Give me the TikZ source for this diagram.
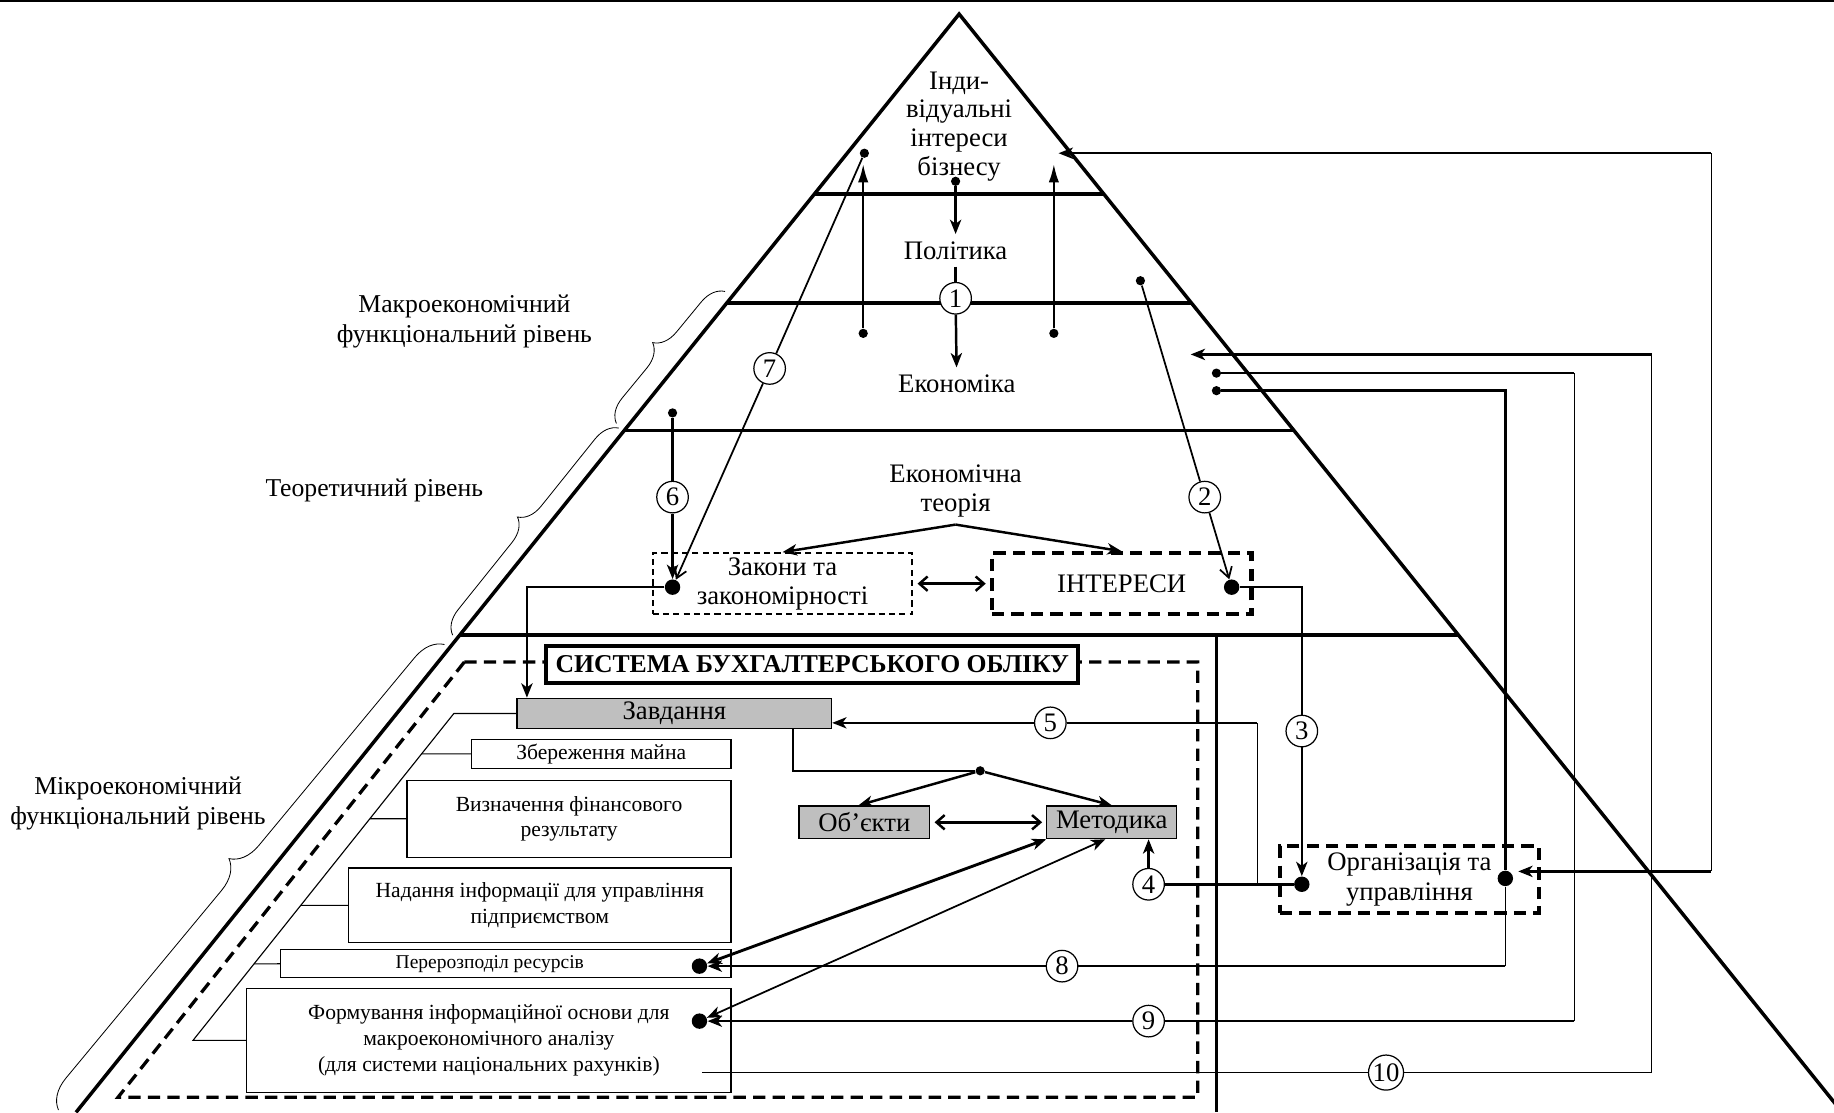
\documentclass[tikz,border=0pt]{standalone}
\usepackage{fontspec}
\setmainfont{Liberation Serif}
\usetikzlibrary{arrows.meta,calc,decorations.pathreplacing,positioning}
\tikzset{
  tier/.style={line width=1.7pt},
  conn/.style={line width=1.2pt},
  mid/.style={line width=0.85pt},
  fine/.style={line width=0.55pt},
  dot/.style={circle,fill,inner sep=0pt,minimum size=4.5pt},
  bigdot/.style={circle,fill,inner sep=0pt,minimum size=7.5pt},
  num/.style={circle,draw,fill=white,inner sep=0.5pt,minimum size=0.54cm,line width=0.6pt,font=\fontsize{13}{14}\selectfont},
  lbl/.style={align=center,font=\fontsize{13}{14}\selectfont},
  side/.style={align=center,font=\fontsize{12.5}{14.5}\selectfont},
  grey/.style={draw,fill=gray!50,line width=0.6pt,inner sep=0pt,font=\fontsize{13}{14}\selectfont},
  goal/.style={draw,fill=white,line width=0.6pt,align=center,inner sep=0pt,font=\fontsize{10.5}{12.5}\selectfont},
  lawbox/.style={draw,dash pattern=on 3pt off 2pt,line width=1.1pt,align=center,inner sep=0pt,font=\fontsize{13}{14}\selectfont},
  heavybox/.style={draw,dash pattern=on 6pt off 3.5pt,line width=2pt,align=center,inner sep=0pt,font=\fontsize{13}{14.5}\selectfont},
  brc/.style={decorate,decoration={brace,amplitude=0.4cm},line width=0.4pt},
  barb/.style={{Straight Barb[length=4pt,width=7pt]}-{Straight Barb[length=4pt,width=7pt]}}
}

\begin{document}
\begin{tikzpicture}[x=0.02cm,y=-0.02cm,>={Stealth[length=7pt,width=5.5pt,inset=2pt]}]
\useasboundingbox (0,0) rectangle (1568,951);
\draw[line width=0.8pt] (0,1) -- (1568,1);

% pyramid and levels
\coordinate (apex) at (820,12);
\coordinate (bl) at (65,951);
\coordinate (br) at (1575,951);
\draw[tier] (bl) -- (apex) -- (br);
\foreach \t in {0.164,0.263,0.3791,0.5655}
  \draw[tier] ($(apex)!\t!(bl)$) -- ($(apex)!\t!(br)$);
\draw[tier] (1040,543) -- (1040,951);

\draw[brc] (527,362) -- (620,249);
\draw[brc] (387,543) -- (529,366);
\draw[brc,decoration={brace,amplitude=0.5cm}] (50,949) -- (380,551);
\node[side] (macro) at (397,275) {Макроекономічний\\функціональний рівень};
\node[side] (theory) at (320,419) {Теоретичний рівень};
\node[side] (micro) at (118,687) {Мікроекономічний\\функціональний рівень};

% top levels
\node[lbl] (ind) at (820,108) {Інди-\\відуальні\\інтереси\\бізнесу};
\node[lbl] (pol) at (817,214) {Політика};
\node[lbl] (eco) at (818,328) {Економіка};
\node[num] (n1) at (817,255) {1};
\node[dot] (dpol) at (817,155) {};
\draw[conn,->] (dpol) -- (pol);
\draw[conn] (pol) -- (n1);
\draw[conn,->] (n1) -- (eco);

\node[dot] (dl) at (738,285) {};
\node[dot] (dr) at (901,285) {};
\coordinate (tl) at (738,140);
\coordinate (tr) at (901,140);
\draw[conn,-{Latex[length=9pt,width=5pt]}] (dl) -- (tl);
\draw[conn,-{Latex[length=9pt,width=5pt]}] (dr) -- (tr);

% theory level
\node[lbl] (teor) at (817,420) {Економічна\\теорія};
\node[lawbox,minimum width=4.44cm,minimum height=1.04cm] (zak) at (669,499) {Закони та\\закономірності};
\node[heavybox,minimum width=4.44cm,minimum height=1.04cm] (int) at (959,499) {ІНТЕРЕСИ};
\draw[conn,->] (teor.south) -- (zak.north);
\draw[conn,->] (teor.south) -- (int.north);
\draw[conn,barb,shorten <=2pt,shorten >=2pt] (zak) -- (int);
\node[bigdot] (dzak) at (575,502) {};
\node[bigdot] (dint) at (1053,502) {};

\node[dot] (d7) at (739,131) {};
\node[num] (n7) at (658,315) {7};
\draw[mid] (d7) -- (n7);
\draw[mid,-{Straight Barb[length=5pt,width=6pt]}] (n7) -- (dzak);
\node[dot] (d6) at (575,353) {};
\node[num] (n6) at (575,425) {6};
\draw[conn] (d6) -- (n6);
\draw[conn,->] (n6) -- (dzak);
\node[dot] (d2) at (975,240) {};
\node[num] (n2) at (1030,425) {2};
\draw[mid] (d2) -- (n2);
\draw[mid,-{Straight Barb[length=5pt,width=6pt]}] (n2) -- (dint);

% accounting system
\draw[line width=1.6pt,dash pattern=on 6pt off 3.5pt] (397,566) -- (1024,566) -- (1024,938) -- (101,938) -- cycle;
\node[draw,line width=2pt,fill=white,inner sep=0pt,minimum width=9.1cm,minimum height=0.64cm,font=\bfseries\fontsize{12.5}{14}\selectfont] (sys) at (694.5,568) {СИСТЕМА БУХГАЛТЕРСЬКОГО ОБЛІКУ};
\node[grey,minimum width=5.38cm,minimum height=0.52cm] (zav) at (576.5,610) {Завдання};
\node[grey,minimum width=2.24cm,minimum height=0.56cm] (obj) at (739,703) {Об’єкти};
\node[grey,minimum width=2.22cm,minimum height=0.56cm] (met) at (950.5,703) {Методика};
\draw[conn,->] (dzak) -| ([xshift=0.18cm]zav.north west);
\node[dot] (dfork) at (838,659) {};
\draw[conn] ([xshift=2.03cm]zav.south) |- (dfork);
\draw[conn,->] (dfork) -- ([xshift=-0.1cm]obj.north);
\draw[conn,->] (dfork) -- (met.north);
\draw[conn,barb,shorten <=2pt,shorten >=2pt] (obj) -- (met);

\node[goal,minimum width=4.44cm,minimum height=0.5cm] (zber) at (514,644.5) {Збереження майна};
\node[goal,minimum width=5.54cm,minimum height=1.32cm] (vyzn) at (486.5,700) {Визначення фінансового\\результату};
\node[goal,minimum width=6.54cm,minimum height=1.28cm] (nad) at (461.5,774) {Надання інформації для управління\\підприємством};
\node[goal,minimum width=7.7cm,minimum height=0.48cm,font=\fontsize{9.5}{11}\selectfont] (per) at (432.5,824) {Перерозподіл ресурсів\hspace{0.55cm}};
\node[goal,minimum width=8.28cm,minimum height=1.78cm] (form) at (418,889.5) {Формування інформаційної основи для\\макроекономічного аналізу\\(для системи національних рахунків)};
\coordinate (gtop) at (388,610);
\coordinate (gbot) at (165,889.5);
\draw[fine] (zav.west) -- (gtop) -- (gbot) -- (form.west);
\foreach \b in {zber,vyzn,nad,per}
  \draw[fine] (\b.west) -- (intersection of gtop--gbot and \b.west--\b.east);

\node[bigdot] (dper) at (598,826) {};
\node[bigdot] (dform) at (598,873) {};
\draw[line width=1.4pt,<->] (dper) -- (met.south west);
\draw[mid,<->] (dform) -- ([xshift=-0.11cm]met.south);

% organisation and feedback lines
\node[heavybox,minimum width=4.44cm,minimum height=1.14cm] (org) at (1205,752) {Організація та\\управління};
\node[bigdot] (dorgl) at (1113,756) {};
\node[bigdot] (dorgr) at (1287,751) {};
\node[num] (n3) at (1113,625) {3};
\draw[conn] (dint) -| (n3);
\draw[conn,->] (n3) -- (dorgl);
\node[num] (n4) at (982,756) {4};
\draw[conn] (dorgl) -- (n4);
\draw[conn,->] (n4) -- (n4 |- met.south);
\coordinate (b5) at (1075,756);
\node[num] (n5) at (898,618) {5};
\draw[fine] (b5) -- (b5 |- n5);
\draw[mid] (b5 |- n5) -- (n5);
\draw[mid,->] (n5) -- (n5 -| zav.east);

\node[dot] (de1) at (1040,319) {};
\node[dot] (de2) at (1040,334) {};
\coordinate (teco) at (1018,303);
\draw[conn] (de2) -| (dorgr);
\node[num] (n8) at (908,826) {8};
\coordinate (c8) at (1287,826);
\draw[fine] (dorgr) -- (c8);
\draw[conn] (c8) -- (n8);
\draw[conn,->] (n8) -- (dper);
\node[num] (n9) at (982,873) {9};
\coordinate (c9) at (1346,873);
\draw[conn] (de1) -- (de1 -| c9);
\draw[fine] (de1 -| c9) -- (c9);
\draw[conn] (c9) -- (n9);
\draw[conn,->] (n9) -- (dform);
\coordinate (s10) at (600,917);
\node[num] (n10) at (1185,917) {10};
\coordinate (c10) at (1412,917);
\draw[fine] (s10) -- (n10) -- (c10) -- (c10 |- teco);
\draw[conn,->] (c10 |- teco) -- (teco);

\coordinate (tind) at (905,131);
\coordinate (ctop) at (1463,131);
\coordinate (cbot) at (1463,745);
\coordinate (torg) at (1298,745);
\draw[conn,->] (ctop) -- (tind);
\draw[fine] (ctop) -- (cbot);
\draw[conn,->] (cbot) -- (torg);
\end{tikzpicture}
\end{document}
